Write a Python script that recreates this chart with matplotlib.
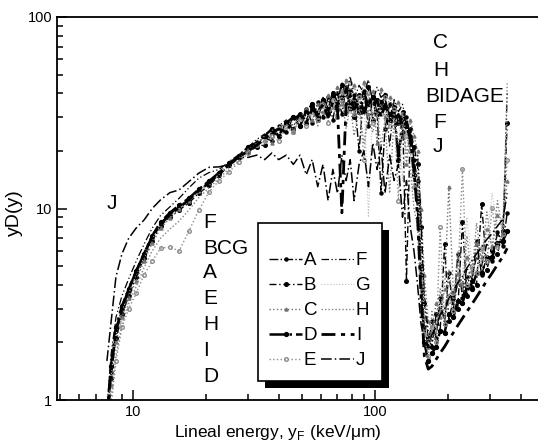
import numpy as np
import matplotlib
matplotlib.use("Agg")
import matplotlib.pyplot as plt
from matplotlib.patches import Rectangle
from matplotlib.transforms import IdentityTransform
from matplotlib.ticker import LogLocator, NullFormatter, FixedLocator, FixedFormatter

plt.rcParams['font.family'] = ['Liberation Sans', 'DejaVu Sans']

# lineal energy grid (keV/um)
x_vals = [7.8, 8.1, 8.5, 9.0, 9.6, 10.3, 11.1, 12.0, 13.0, 14.2, 15.5, 17.0, 18.7, 20.6, 22.7, 25.0, 27.5,
          30, 32.5, 35, 37.5, 40, 43, 46, 49, 52, 55, 58, 61, 64, 67, 70, 73, 76, 79, 82, 86, 90, 94, 98,
          102, 106, 110, 115, 120, 125, 130, 135, 140, 145,
          150, 155, 160, 166, 172, 179, 186, 194, 202, 211, 220, 230, 240, 251, 263, 276, 290, 305, 321, 338, 352]

A = [0.8, 1.4, 2.3, 3.0, 3.7, 4.6, 5.7, 7.1, 8.4, 9.3, 10.2, 11.0, 12.4, 13.5, 15.0, 16.8, 18.3,
     20.5, 22, 23.5, 22.5, 27, 25, 30, 27, 33, 28, 36, 30, 38, 29, 40, 31, 43, 33, 39, 20, 41, 27, 38, 32, 12, 26, 35, 30, 19, 25, 30, 24, 18,
     14, 5, 2.4, 1.9, 2.6, 2.1, 3.4, 2.5, 4.6, 2.9, 5.8, 3.4, 4.4, 3.9, 6.8, 4.5, 5.6, 5.3, 7.5, 6.4, 9.5]
B = [0.7, 1.3, 2.1, 2.8, 3.5, 4.4, 5.5, 6.8, 8.1, 9.0, 9.8, 10.7, 12.0, 13.2, 14.9, 16.9, 18.6,
     19.8, 21, 21.5, 25, 24, 28, 26, 31, 28, 34, 29, 37, 31, 40, 33, 44, 32, 41, 30, 39, 33, 43, 29, 37, 34, 39, 29, 34, 28, 32, 4.2, 26, 21,
     17, 8, 3.2, 2.1, 1.9, 2.8, 2.3, 6.5, 2.6, 3.4, 3.0, 8.5, 3.5, 4.2, 4.0, 10.6, 4.8, 6.1, 5.8, 7.6, 28]
C = [0.6, 1.2, 2.0, 2.7, 3.4, 4.2, 5.3, 6.6, 7.9, 8.9, 9.9, 10.9, 12.3, 13.8, 15.6, 17.4, 19.0,
     20.8, 22.5, 23, 22, 26.5, 28, 25, 30, 33, 29, 35, 32, 39, 34, 43, 35, 47, 36, 44, 34, 46, 31, 41, 22, 42, 30, 38, 33, 36, 30, 17, 29, 24,
     20, 10, 4.5, 2.6, 2.3, 3.2, 2.7, 3.8, 13, 3.6, 4.6, 4.1, 5.6, 4.7, 6.6, 5.6, 7.8, 6.4, 9.2, 8.2, 14]
D = [0.8, 1.5, 2.4, 3.1, 3.8, 4.7, 5.8, 7.2, 8.5, 9.5, 10.4, 11.3, 12.6, 13.9, 15.4, 17.2, 18.9,
     21, 22, 24, 26, 24, 28, 30, 27, 32, 35, 30, 37, 33, 39, 35, 38, 41, 34, 37, 32, 40, 35, 38, 31, 36, 34, 31, 33, 18, 30, 27, 22, 15,
     11, 4.5, 2.0, 1.6, 1.75, 1.9, 2.3, 2.25, 2.8, 2.7, 3.3, 3.2, 3.9, 3.8, 4.6, 4.6, 5.5, 5.6, 6.6, 6.8, 7.6]
E = [0.5, 0.9, 1.6, 2.4, 3.0, 3.6, 4.5, 5.3, 6.2, 6.3, 6.0, 7.6, 9.8, 12.2, 14.0, 15.6, 17.5,
     19.5, 21.5, 22.5, 24, 22.5, 26.5, 25, 29.5, 27, 32, 29, 35, 28, 37, 30, 41, 32, 45, 31, 38, 18, 40, 28, 36, 31, 38, 27, 33, 11, 31, 24, 20, 13,
     12, 4.2, 2.2, 1.7, 2.4, 2.0, 8, 2.5, 3.3, 2.9, 4.2, 16, 4.0, 5.0, 4.6, 6.2, 5.3, 10.1, 6.3, 7.4, 18]
F = [0.9, 1.7, 2.7, 3.5, 4.3, 5.3, 6.5, 7.9, 9.2, 10.2, 11.3, 12.8, 14.4, 15.4, 16.0, 17.6, 19.2,
     21, 23, 24.5, 23, 27, 29, 27, 31, 29, 34, 32, 38, 33, 41, 36, 46, 38, 49, 37, 44, 40, 47, 36, 43, 38, 40, 21, 37, 32, 35, 28, 25, 19,
     19, 9, 3.6, 2.3, 2.0, 2.6, 3.1, 2.7, 3.6, 3.2, 4.1, 3.7, 4.9, 4.3, 5.6, 5.0, 6.5, 5.8, 7.4, 6.8, 40]
G = [0.7, 1.3, 2.2, 2.9, 3.6, 4.5, 5.5, 6.9, 8.2, 9.1, 10.0, 10.9, 12.1, 13.4, 15.1, 16.7, 18.4,
     20, 22, 21.5, 25.5, 27, 25.5, 29, 28, 31, 30, 33, 31, 36, 32, 38, 34, 40, 32, 37, 35, 39, 9, 37, 30, 35, 31, 33, 28, 31, 14, 26, 20, 14,
     16, 6, 2.8, 2.0, 2.2, 2.5, 2.9, 3.1, 3.5, 3.8, 4.2, 4.6, 9, 5.4, 5.9, 6.4, 7.0, 12, 8.0, 9.0, 30]
H = [0.5, 1.0, 1.7, 2.5, 3.2, 3.9, 4.9, 6.0, 7.0, 7.8, 8.6, 9.8, 11.4, 12.8, 14.4, 16.2, 17.8,
     20.5, 21.5, 24, 23, 26, 27.5, 26, 30, 28, 33, 27, 36, 31, 34, 29, 38, 26, 35, 24, 33, 22, 30, 25, 32, 21, 29, 12, 30, 22, 27, 20, 16, 10,
     8, 3.0, 2.0, 1.8, 2.9, 2.2, 3.8, 2.6, 4.8, 3.2, 6.0, 3.7, 7.2, 4.4, 8.4, 5.1, 9.6, 6.0, 11, 7.2, 45]
I = [0.8, 1.4, 2.3, 3.0, 3.8, 4.7, 5.8, 7.1, 8.3, 9.3, 10.1, 11.1, 12.4, 13.6, 15.2, 17.0, 18.7,
     20, 21.5, 23, 25, 26, 25, 29, 31, 28, 33, 31, 35, 30, 36, 33, 9.5, 35, 39, 33, 36, 31, 38, 34, 37, 30, 35, 32, 29, 31, 27, 28, 23, 16,
     9, 3.5, 1.7, 1.45, 1.5, 1.63, 1.76, 1.9, 2.07, 2.25, 2.45, 2.67, 2.9, 3.15, 3.45, 3.8, 4.2, 4.6, 5.1, 5.6, 6.2]
J = [1.6, 2.5, 4.4, 5.8, 7.0, 7.9, 8.7, 10.0, 11.1, 12.1, 12.5, 13.8, 15.3, 16.4, 16.5, 17.0, 18.5,
     18.5, 19, 18, 19.5, 18, 19, 17, 19, 15, 18, 13, 17, 11, 16, 12, 19, 14, 18, 11, 17, 20, 13, 22, 16, 21, 12, 19, 14, 17, 9, 14, 8, 6,
     4, 2.5, 2.0, 1.9, 2.2, 2.4, 2.8, 3.0, 3.4, 3.7, 4.1, 4.4, 4.9, 5.3, 5.8, 6.3, 6.9, 7.4, 8.1, 8.8, 12]

series_names = ['A', 'B', 'C', 'D', 'E', 'F', 'G', 'H', 'I', 'J']
series_vals = [A, B, C, D, E, F, G, H, I, J]

styles = {
    'A': dict(color='black', ls='-.', lw=1.0, marker='o', ms=2.2),
    'B': dict(color='black', ls=(0, (5, 2, 1, 2)), lw=1.0, marker='o', ms=2.6),
    'C': dict(color='0.45', ls=':', lw=1.0, marker='^', ms=2.2),
    'D': dict(color='black', ls='-.', lw=1.8, marker='o', ms=2.8),
    'E': dict(color='0.55', ls=':', lw=1.0, marker='o', ms=2.6, mfc='none'),
    'F': dict(color='black', ls=(0, (6, 2, 1, 2, 1, 2)), lw=0.9),
    'G': dict(color='0.75', ls=':', lw=0.8),
    'H': dict(color='0.5', ls=(0, (1, 1.5)), lw=1.0),
    'I': dict(color='black', ls=(0, (5, 2, 1.5, 2)), lw=2.0),
    'J': dict(color='black', ls=(0, (7, 2, 1, 2)), lw=1.1),
}

fig = plt.figure(figsize=(5.38, 4.47), dpi=100)
ax = fig.add_axes([57/538, 47/447, 481/538, 383/447])

for name, vals in zip(series_names, series_vals):
    ax.plot(x_vals, vals, label=name, **styles[name])

ax.set_xscale('log')
ax.set_yscale('log')
ax.set_xlim(4.85, 472)
ax.set_ylim(1, 100)

ax.spines['right'].set_visible(False)
for s in ['left', 'bottom', 'top']:
    ax.spines[s].set_linewidth(1.3)

ax.xaxis.set_major_locator(FixedLocator([10, 100]))
ax.xaxis.set_major_formatter(FixedFormatter(['10', '100']))
ax.xaxis.set_minor_locator(LogLocator(base=10, subs=np.arange(2, 10)))
ax.xaxis.set_minor_formatter(NullFormatter())
ax.yaxis.set_major_locator(FixedLocator([1, 10, 100]))
ax.yaxis.set_major_formatter(FixedFormatter(['1', '10', '100']))
ax.yaxis.set_minor_locator(LogLocator(base=10, subs=np.arange(2, 10)))
ax.yaxis.set_minor_formatter(NullFormatter())
ax.tick_params(which='both', direction='in', top=False, right=False, labelsize=10.5, width=1.1)
ax.tick_params(which='major', length=7)
ax.tick_params(which='minor', length=4)

ax.set_xlabel('Lineal energy, y$_\\mathregular{F}$ (keV/\u03bcm)', fontsize=12.5)
ax.xaxis.set_label_coords(0.459, -0.06)
ax.set_ylabel('yD(y)', fontsize=14)
ax.yaxis.set_label_coords(-0.07, 0.49)

# letter annotations
tkw = dict(transform=ax.transAxes, fontsize=15, va='center', ha='left')
ax.text(0.114, 0.514, 'J', ha='center', va='center', transform=ax.transAxes, fontsize=15)
left_col = ['F', 'BCG', 'A', 'E', 'H', 'I', 'D']
left_y = [222, 248, 273, 298, 325, 350, 377]
for t, py in zip(left_col, left_y):
    ax.text((203 - 57) / 481, (400 - py) / 383, t, **tkw)
right_col = ['C', 'H', 'BIDAGE', 'F', 'J']
right_y = [43, 71, 97, 122, 147]
right_x = [433, 433, 425, 433, 433]
for t, px, py in zip(right_col, right_x, right_y):
    ax.text((px - 57) / 481, (400 - py) / 383, t, **tkw)

leg = ax.legend(ncol=2, loc='upper left', bbox_to_anchor=((258 - 57) / 481, (400 - 223) / 383),
                borderaxespad=0, fontsize=13.5, handlelength=1.75, handletextpad=0.1,
                columnspacing=0.2, labelspacing=0.42, borderpad=0.6, fancybox=False,
                edgecolor='black', framealpha=1, numpoints=1, title=' ', title_fontsize=8)
leg.get_frame().set_linewidth(1.2)
leg.set_zorder(6)

fig.canvas.draw()
bb = leg.get_window_extent()
shadow = Rectangle((bb.x0 + 7, bb.y0 - 7), bb.width, bb.height, transform=IdentityTransform(),
                   facecolor='black', edgecolor='none', zorder=5.5, clip_on=False)
ax.add_patch(shadow)

fig.savefig('out.png', dpi=100)
